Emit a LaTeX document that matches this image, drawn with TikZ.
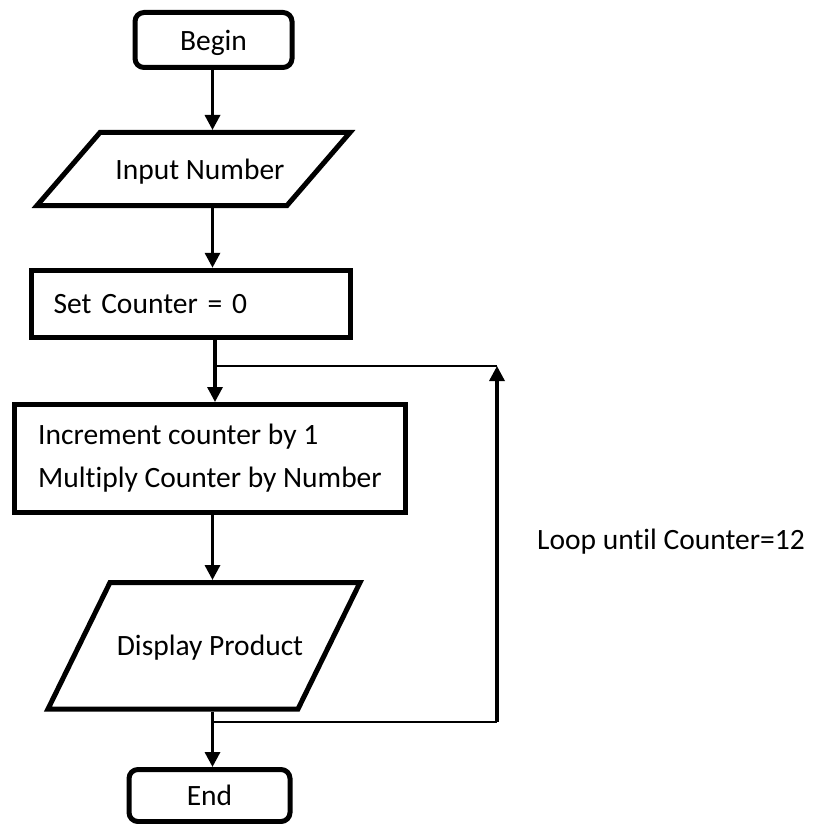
\documentclass[tikz,border=0pt]{standalone}
\usepackage{fontspec}
\setmainfont{Carlito}[Ligatures=CommonOff]
\usetikzlibrary{arrows.meta}
\begin{document}
\begin{tikzpicture}[x=1pt,y=-1pt,
  every node/.style={font=\fontsize{29.5}{43}\selectfont, text=black},
  termbox/.style={draw, line width=5pt, rounded corners=9pt, inner sep=0pt, text depth=0pt},
  procbox/.style={draw, line width=5pt, inner sep=0pt},
  ioanchor/.style={draw=none, inner sep=0pt, outer xsep=0pt, outer ysep=2.5pt, text depth=0pt},
  iopath/.style={line width=5pt, line join=miter},
  arr/.style={line width=3.3pt, -{Triangle[length=15pt,width=15pt]}},
  conn/.style={line width=2.8pt}]
\useasboundingbox (0,0) rectangle (813,824);
\node[termbox, minimum width=157pt, minimum height=55pt] (begin) at (213.5,40) {Begin};
% Input parallelogram
\draw[iopath] (100,132.5) -- (350,132.5) -- (287,205.5) -- (37,205.5) -- cycle;
\node[ioanchor, minimum width=240pt, minimum height=73pt] (in) at (200,169) {Input Number};
\node[procbox, minimum width=319pt, minimum height=67.5pt, text width=275pt] (set) at (191,304) {\mbox{Set Counter = 0}};
\node[procbox, minimum width=391pt, minimum height=108pt, align=left] (inc) at (210,458.5) {Increment counter by 1\\Multiply Counter by Number};
% Display parallelogram
\draw[iopath] (110,582.5) -- (360,582.5) -- (298,709) -- (48,709) -- cycle;
\node[ioanchor, minimum width=240pt, minimum height=126.5pt] (disp) at (210,645.75) {Display Product};
\node[termbox, minimum width=161pt, minimum height=52pt] (end) at (209.5,795.5) {End};
\node[anchor=base west, inner sep=0pt] (loop) at (537,549) {Loop until Counter=12};
\coordinate (ax) at (212.5,0);
\coordinate (jt) at (215,366);
\coordinate (jb) at (212.5,722);
\coordinate (ct) at (497,366);
\coordinate (cb) at (497,722);
\draw[arr] (begin.south -| ax) -- (in.north -| ax);
\draw[arr] (in.south -| ax) -- (set.north -| ax);
\draw[arr] (set.south -| jt) -- (inc.north -| jt);
\draw[arr] (inc.south -| ax) -- (disp.north -| ax);
\draw[arr] (disp.south -| ax) -- (end.north -| ax);
\draw[conn] (jt) -- (ct);
\draw[conn] (jb) -- (cb);
\draw[arr] (cb) -- (ct);
\end{tikzpicture}
\end{document}
